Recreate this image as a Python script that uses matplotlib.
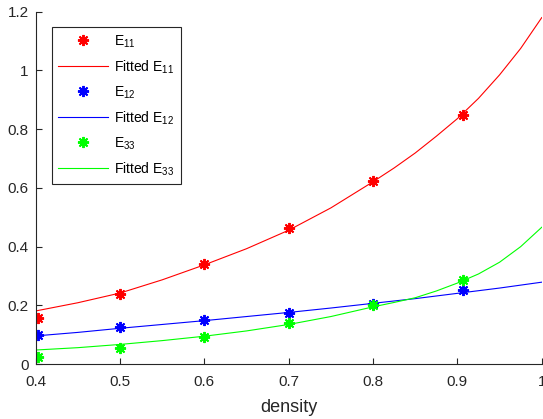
import numpy as np
import matplotlib.pyplot as plt

# measured points
density = [0.403, 0.5, 0.6, 0.7, 0.8, 0.9066]
e11 = [0.156, 0.240, 0.340, 0.463, 0.624, 0.848]
e12 = [0.099, 0.127, 0.149, 0.175, 0.206, 0.252]
e33 = [0.023, 0.054, 0.093, 0.141, 0.203, 0.287]

# fitted curves
x_fit = [0.40, 0.45, 0.50, 0.55, 0.60, 0.65, 0.70, 0.75, 0.80,
         0.825, 0.85, 0.875, 0.90, 0.925, 0.95, 0.975, 1.00]
fit11 = [0.181, 0.209, 0.242, 0.287, 0.338, 0.393, 0.456, 0.532, 0.621,
         0.668, 0.719, 0.776, 0.836, 0.905, 0.985, 1.075, 1.180]
fit12 = [0.096, 0.108, 0.122, 0.135, 0.148, 0.162, 0.176, 0.191, 0.207,
         0.215, 0.223, 0.232, 0.241, 0.250, 0.259, 0.269, 0.279]
fit33 = [0.048, 0.056, 0.067, 0.080, 0.095, 0.113, 0.135, 0.162, 0.195,
         0.210, 0.226, 0.249, 0.276, 0.307, 0.347, 0.400, 0.466]

plt.rcParams['font.family'] = ['Liberation Sans', 'DejaVu Sans']
plt.rcParams['mathtext.fontset'] = 'custom'
plt.rcParams['mathtext.rm'] = 'Liberation Sans'
plt.rcParams['mathtext.it'] = 'Liberation Sans'

fig = plt.figure(figsize=(5.43, 4.19), dpi=100)
ax = fig.add_axes([0.0657, 0.131, 0.932, 0.841])

star = (8, 2, 0)
ax.plot(density, e11, linestyle='none', marker=star, ms=8, mew=1.4, color='#ff0000', label='E$_{11}$')
ax.plot(x_fit, fit11, color='#ff0000', lw=0.8, label='Fitted E$_{11}$')
ax.plot(density, e12, linestyle='none', marker=star, ms=8, mew=1.4, color='#0000ff', label='E$_{12}$')
ax.plot(x_fit, fit12, color='#0000ff', lw=0.8, label='Fitted E$_{12}$')
ax.plot(density, e33, linestyle='none', marker=star, ms=8, mew=1.4, color='#00ff00', label='E$_{33}$')
ax.plot(x_fit, fit33, color='#00ff00', lw=0.8, label='Fitted E$_{33}$')

ax.set_xlim(0.4, 1.0)
ax.set_ylim(0, 1.2)
ax.set_xticks([0.4, 0.5, 0.6, 0.7, 0.8, 0.9, 1.0])
ax.set_xticklabels(['0.4', '0.5', '0.6', '0.7', '0.8', '0.9', '1'])
ax.set_yticks([0, 0.2, 0.4, 0.6, 0.8, 1.0, 1.2])
ax.set_yticklabels(['0', '0.2', '0.4', '0.6', '0.8', '1', '1.2'])
ax.set_xlabel('density', fontsize=13, color='#262626', labelpad=7)

for s in ['top', 'right']:
    ax.spines[s].set_visible(False)
for s in ['left', 'bottom']:
    ax.spines[s].set_color('#262626')
    ax.spines[s].set_linewidth(0.8)
ax.tick_params(direction='in', length=4, width=0.8, colors='#262626', labelsize=11)
ax.tick_params(axis='x', pad=8)
ax.tick_params(axis='y', pad=5)

leg = ax.legend(loc='upper left', bbox_to_anchor=(52 / 543, 1 - 27 / 419),
                bbox_transform=fig.transFigure, borderaxespad=0, fontsize=10,
                handlelength=3.6, numpoints=1, labelspacing=0.62, borderpad=0.45,
                handletextpad=0.45, fancybox=False, edgecolor='#262626', framealpha=1)
leg.get_frame().set_linewidth(0.8)

fig.savefig('out.png', dpi=100)
